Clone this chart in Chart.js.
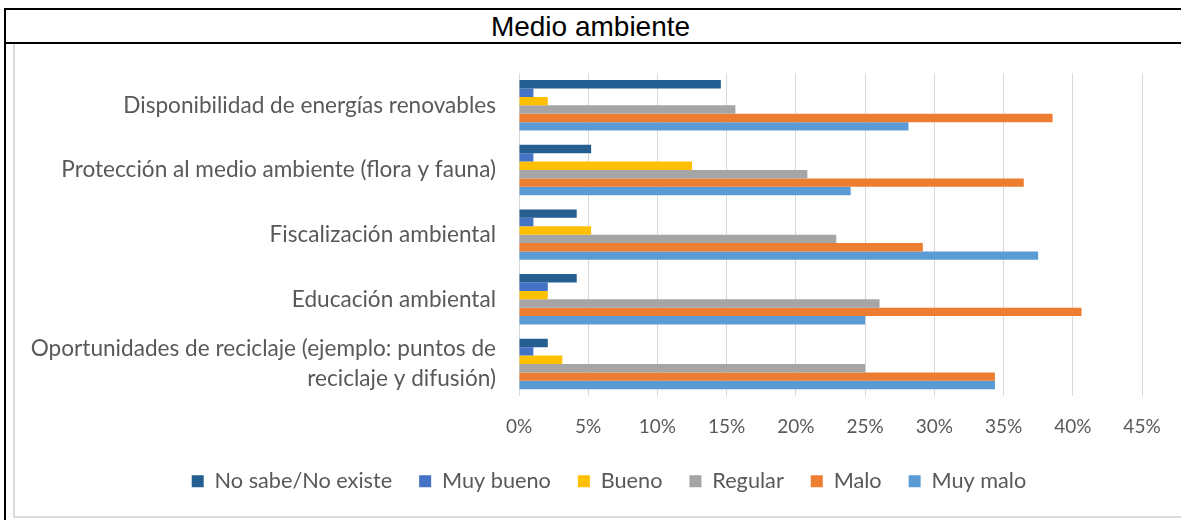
<!DOCTYPE html>
<html>
<head>
<meta charset="utf-8">
<script src="https://cdn.jsdelivr.net/npm/chart.js@4.4.1/dist/chart.umd.min.js"></script>
<style>
  html, body { margin: 0; padding: 0; background: #fff; overflow: hidden; width: 1181px; height: 520px; }
  #frame { position: absolute; left: 4px; top: 8px; width: 1200px; height: 530px; border-left: 2px solid #000; border-top: 2px solid #000; }
  #title { position: absolute; left: 0; top: 10px; width: 1181px; height: 33px; line-height: 33px; text-align: center;
           font-family: 'Liberation Sans', Arial, sans-serif; font-size: 28px; color: #000; }
  #titleLine { position: absolute; left: 4px; top: 42px; width: 1200px; height: 2px; background: #000; }
  #box { position: absolute; left: 13px; top: 44px; width: 1200px; height: 472px; border-left: 2px solid #d9d9d9; border-bottom: 2px solid #d9d9d9; }
  #chart { position: absolute; left: 15px; top: 46px; }
</style>
</head>
<body>
<div id="frame"></div>
<div id="title">Medio ambiente</div>
<div id="titleLine"></div>
<div id="box"></div>
<canvas id="chart" width="1188" height="470"></canvas>

<script>
// Medio ambiente — horizontal grouped bars (percent of answers)

const categories = [
  'Disponibilidad de energías renovables',
  'Protección al medio ambiente (flora y fauna)',
  'Fiscalización ambiental',
  'Educación ambiental',
  ['Oportunidades de reciclaje (ejemplo: puntos de', 'reciclaje y difusión)'],
];

const seriesNames = ['No sabe/No existe', 'Muy bueno', 'Bueno', 'Regular', 'Malo', 'Muy malo'];

const noSabe   = [14.58, 5.21, 4.17, 4.17, 2.08];
const muyBueno = [1.04, 1.04, 1.04, 2.08, 1.04];
const bueno    = [2.08, 12.5, 5.21, 2.08, 3.13];
const regular  = [15.63, 20.83, 22.92, 26.04, 25.0];
const malo     = [38.54, 36.46, 29.17, 40.63, 34.38];
const muyMalo  = [28.13, 23.96, 37.5, 25.0, 34.38];

const xMin = 0, xMax = 45, xStep = 5;

const COLORS = ['#255E91', '#4472C4', '#FFC000', '#A5A5A5', '#ED7D31', '#5B9BD5'];
const FONT = "'Lato', 'Open Sans', sans-serif";
const TEXT = '#595959';

const values = [noSabe, muyBueno, bueno, regular, malo, muyMalo];

// legend uses the full canvas width; the plot's right gap comes from the x scale padding
new Chart(document.getElementById('chart'), {
  type: 'bar',
  data: {
    labels: categories,
    datasets: seriesNames.map((name, i) => ({
      label: name,
      data: values[i],
      backgroundColor: COLORS[i],
      borderWidth: 0,
      categoryPercentage: 0.78,
      barPercentage: 1.0,
    })),
  },
  options: {
    indexAxis: 'y',
    responsive: false,
    animation: false,
    layout: { padding: { left: 0, right: 0, top: 27, bottom: 14 } },
    plugins: {
      title: { display: false },
      tooltip: { enabled: false },
      legend: {
        position: 'bottom',
        labels: {
          boxWidth: 12, boxHeight: 12, padding: 27,
          color: TEXT,
          font: { family: FONT, size: 21.7 },
        },
      },
    },
    scales: {
      x: {
        min: xMin, max: xMax,
        afterFit: s => { s.height = 47; s.paddingRight = 61; },
        ticks: {
          stepSize: xStep,
          padding: 19,
          color: TEXT,
          font: { family: FONT, size: 19 },
          callback: v => v + '%',
        },
        grid: { color: '#d9d9d9', lineWidth: 1, drawTicks: false },
        border: { display: false },
      },
      y: {
        afterFit: s => { s.width = 504; s.paddingTop = 0; s.paddingBottom = 0; },
        ticks: {
          autoSkip: false,
          padding: 23,
          color: TEXT,
          font: { family: FONT, size: 22.6, lineHeight: 1.33 },
        },
        grid: { display: false, drawTicks: false },
        border: { display: false },
      },
    },
  },
});
</script>
</body>
</html>
